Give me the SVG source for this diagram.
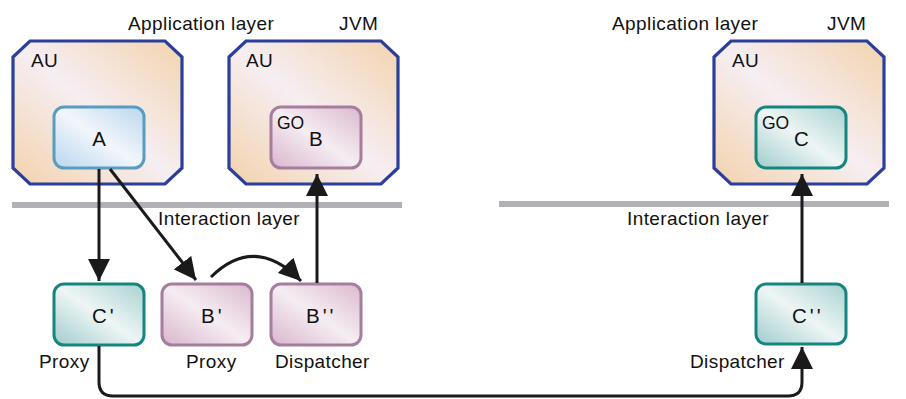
<svg xmlns="http://www.w3.org/2000/svg" width="906" height="399" viewBox="0 0 906 399">
<defs>
<linearGradient id="gAU" x1="0" y1="1" x2="1" y2="0">
<stop offset="0" stop-color="#f3d2ac"/><stop offset="0.5" stop-color="#f6eef2"/><stop offset="1" stop-color="#f3d3ae"/>
</linearGradient>
<linearGradient id="gBlue" x1="0" y1="1" x2="1" y2="0">
<stop offset="0" stop-color="#b8d6ee"/><stop offset="0.5" stop-color="#f2f6fb"/><stop offset="1" stop-color="#bad7ee"/>
</linearGradient>
<linearGradient id="gPink" x1="0" y1="1" x2="1" y2="0">
<stop offset="0" stop-color="#d9b5cd"/><stop offset="0.5" stop-color="#f5edf2"/><stop offset="1" stop-color="#dbb9cf"/>
</linearGradient>
<linearGradient id="gTeal" x1="0" y1="1" x2="1" y2="0">
<stop offset="0" stop-color="#9fcdcc"/><stop offset="0.5" stop-color="#eef5f5"/><stop offset="1" stop-color="#a8d2d1"/>
</linearGradient>
<marker id="ah" markerUnits="userSpaceOnUse" markerWidth="22" markerHeight="22" viewBox="0 0 20 20" refX="20" refY="10" orient="auto">
<path d="M0,0 L20,10 L0,20 Z" fill="#1a1a1a"/>
</marker>
<style>
text{font-family:"Liberation Sans",Arial,sans-serif;fill:#111;font-size:19px;letter-spacing:0.4px}
.au{fill:url(#gAU);stroke:#2a3f9c;stroke-width:3.2}
.blue{fill:url(#gBlue);stroke:#5a9cbf;stroke-width:3}
.pink{fill:url(#gPink);stroke:#a57d9d;stroke-width:3}
.teal{fill:url(#gTeal);stroke:#15857f;stroke-width:3}
.big{font-size:20.5px;letter-spacing:0}
.pr{letter-spacing:3px}
.go{font-size:17.5px;letter-spacing:0}
.bar{fill:#b1b1b5}
.con{fill:none;stroke:#1a1a1a;stroke-width:3;marker-end:url(#ah)}
</style>
</defs>

<rect class="bar" x="12" y="202" width="390" height="6"/>
<rect class="bar" x="499" y="201" width="390" height="6"/>

<text x="128" y="30">Application layer</text>
<text x="339" y="30">JVM</text>
<text x="612" y="30">Application layer</text>
<text x="827" y="30">JVM</text>
<text x="158" y="225">Interaction layer</text>
<text x="627" y="225">Interaction layer</text>

<g id="au1">
<path class="au" d="M30,41 H165 L182,57 V168 L165,184 H30 L13,168 V57 Z"/>
<text x="31" y="67">AU</text>
</g>
<g id="au2">
<path class="au" d="M246,41 H381 L398,57 V168 L381,184 H246 L229,168 V57 Z"/>
<text x="246" y="67">AU</text>
</g>
<g id="au3">
<path class="au" d="M731,41 H867 L884,57 V168 L867,184 H731 L714,168 V57 Z"/>
<text x="732" y="67">AU</text>
</g>

<g id="nodeA">
<rect class="blue" x="54" y="107" width="90" height="61" rx="10"/>
<text class="big" x="99" y="146" text-anchor="middle">A</text>
</g>
<g id="nodeGOB">
<rect class="pink" x="271" y="107" width="90" height="61" rx="10"/>
<text class="go" x="277" y="129">GO</text>
<text class="big" x="309" y="146">B</text>
</g>
<g id="nodeGOC">
<rect class="teal" x="756" y="107" width="90" height="61" rx="10"/>
<text class="go" x="762" y="129">GO</text>
<text class="big" x="794" y="146">C</text>
</g>

<g id="nodeC1">
<rect class="teal" x="54" y="284" width="90" height="61" rx="10"/>
<text class="big pr" x="92" y="323">C'</text>
<text x="39" y="368">Proxy</text>
</g>
<g id="nodeB1">
<rect class="pink" x="162" y="284" width="90" height="61" rx="10"/>
<text class="big pr" x="201" y="323">B'</text>
<text x="186" y="368">Proxy</text>
</g>
<g id="nodeB2">
<rect class="pink" x="271" y="284" width="90" height="61" rx="10"/>
<text class="big pr" x="306" y="323">B''</text>
<text x="275" y="368">Dispatcher</text>
</g>
<g id="nodeC2">
<rect class="teal" x="756" y="284" width="90" height="60" rx="10"/>
<text class="big pr" x="792" y="323">C''</text>
<text x="690" y="368">Dispatcher</text>
</g>

<g id="connectors">
<path class="con" d="M99,169 V281"/>
<path class="con" d="M110,169 L196,280"/>
<path class="con" d="M211,277 Q255,234 301,281"/>
<path class="con" d="M317,283 V174"/>
<path class="con" d="M802,283 V174"/>
<path class="con" d="M99,346 V382 Q99,396 113,396 H788 Q802,396 802,382 V347"/>
</g>
</svg>
